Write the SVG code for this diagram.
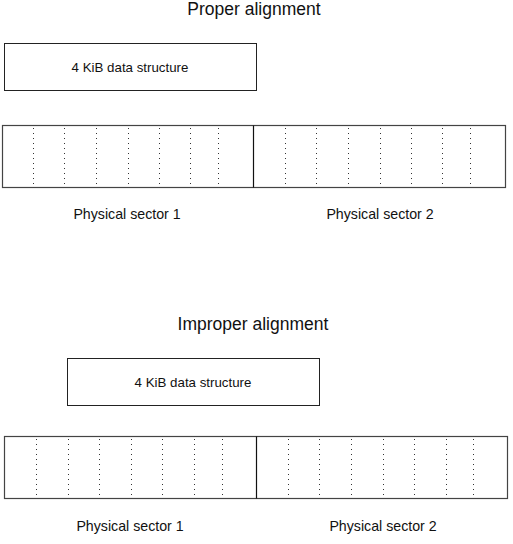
<svg xmlns="http://www.w3.org/2000/svg" width="513" height="544" viewBox="0 0 513 544">
<style>
text{font-family:"Liberation Sans",Arial,sans-serif;fill:#111;text-anchor:middle}
.t{font-size:17.5px}
.l{font-size:14.2px}
.s{font-size:13.3px}
.box{fill:#fff;stroke:#222;stroke-width:1}
.bar{fill:#fff;stroke:#444;stroke-width:1.2}
.div{stroke:#111;stroke-width:1.2}
.dot{stroke:#333;stroke-width:1;stroke-dasharray:1 4}
</style>
<rect width="513" height="544" fill="#fff"/>
<text class="t" x="254" y="15">Proper alignment</text>
<g id="proper-data"><rect class="box" x="4.5" y="43.5" width="252" height="47"/><text class="s" x="130" y="72">4 KiB data structure</text></g>
<g id="proper-sectors">
<rect class="bar" x="2.5" y="125.5" width="503" height="62"/>
<line class="div" x1="253.5" y1="125.5" x2="253.5" y2="187.5"/>
<g class="dot">
<line x1="33.5" y1="128" x2="33.5" y2="187"/><line x1="64.5" y1="128" x2="64.5" y2="187"/><line x1="96.5" y1="128" x2="96.5" y2="187"/><line x1="128.5" y1="128" x2="128.5" y2="187"/><line x1="159.5" y1="128" x2="159.5" y2="187"/><line x1="190.5" y1="128" x2="190.5" y2="187"/><line x1="218.5" y1="128" x2="218.5" y2="187"/>
<line x1="285.5" y1="128" x2="285.5" y2="187"/><line x1="316.5" y1="128" x2="316.5" y2="187"/><line x1="348.5" y1="128" x2="348.5" y2="187"/><line x1="380.5" y1="128" x2="380.5" y2="187"/><line x1="411.5" y1="128" x2="411.5" y2="187"/><line x1="442.5" y1="128" x2="442.5" y2="187"/><line x1="470.5" y1="128" x2="470.5" y2="187"/>
</g>
<text class="l" x="127" y="219">Physical sector 1</text>
<text class="l" x="380" y="219">Physical sector 2</text>
</g>
<text class="t" x="253" y="330">Improper alignment</text>
<g id="improper-data"><rect class="box" x="67.5" y="358.5" width="252" height="47"/><text class="s" x="193" y="387">4 KiB data structure</text></g>
<g id="improper-sectors">
<rect class="bar" x="4.5" y="436.5" width="503" height="62"/>
<line class="div" x1="256.5" y1="436.5" x2="256.5" y2="498.5"/>
<g class="dot">
<line x1="36.5" y1="439" x2="36.5" y2="498"/><line x1="68.5" y1="439" x2="68.5" y2="498"/><line x1="99.5" y1="439" x2="99.5" y2="498"/><line x1="131.5" y1="439" x2="131.5" y2="498"/><line x1="162.5" y1="439" x2="162.5" y2="498"/><line x1="194.5" y1="439" x2="194.5" y2="498"/><line x1="222.5" y1="439" x2="222.5" y2="498"/>
<line x1="288.5" y1="439" x2="288.5" y2="498"/><line x1="319.5" y1="439" x2="319.5" y2="498"/><line x1="351.5" y1="439" x2="351.5" y2="498"/><line x1="383.5" y1="439" x2="383.5" y2="498"/><line x1="414.5" y1="439" x2="414.5" y2="498"/><line x1="446.5" y1="439" x2="446.5" y2="498"/><line x1="473.5" y1="439" x2="473.5" y2="498"/>
</g>
<text class="l" x="130" y="531">Physical sector 1</text>
<text class="l" x="383" y="531">Physical sector 2</text>
</g>
<g id="connectors"/>
</svg>
